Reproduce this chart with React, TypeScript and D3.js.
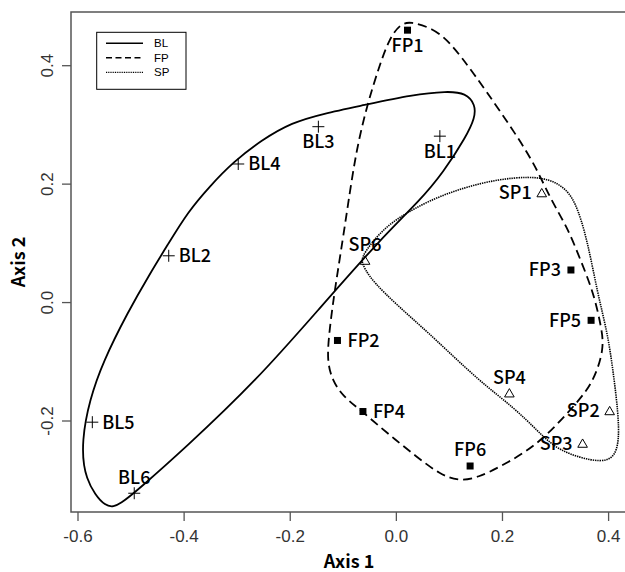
import { useEffect, useRef } from "react";
import * as d3 from "d3";

// site scores (Axis 1, Axis 2)
const blNames = ["BL1", "BL2", "BL3", "BL4", "BL5", "BL6"];
const blX = [0.082, -0.429, -0.147, -0.298, -0.573, -0.494];
const blY = [0.281, 0.079, 0.297, 0.234, -0.202, -0.322];
const blPos = [1, 4, 1, 4, 4, 3];

const fpNames = ["FP1", "FP2", "FP3", "FP4", "FP5", "FP6"];
const fpX = [0.021, -0.111, 0.329, -0.063, 0.367, 0.139];
const fpY = [0.46, -0.064, 0.055, -0.184, -0.03, -0.276];
const fpPos = [1, 4, 2, 4, 2, 3];

const spNames = ["SP1", "SP2", "SP3", "SP4", "SP6"];
const spX = [0.274, 0.402, 0.351, 0.213, -0.059];
const spY = [0.185, -0.183, -0.238, -0.153, 0.071];
const spPos = [2, 2, 2, 3, 3];

// smoothed group envelopes
const blHull = [
  [-0.547, -0.351], [-0.589, -0.298], [-0.593, -0.232], [-0.578, -0.164], [-0.553, -0.1],
  [-0.506, -0.016], [-0.465, 0.048], [-0.43, 0.099], [-0.393, 0.153], [-0.351, 0.197],
  [-0.308, 0.237], [-0.253, 0.275],
  [-0.197, 0.304], [-0.138, 0.319], [-0.063, 0.333], [0.031, 0.351], [0.095, 0.357],
  [0.131, 0.354], [0.149, 0.334], [0.148, 0.312], [0.132, 0.281], [0.088, 0.219],
  [0.045, 0.173], [-0.031, 0.106], [-0.144, -0.009], [-0.263, -0.131], [-0.402, -0.249],
  [-0.483, -0.313], [-0.519, -0.34],
];
const fpHull = [
  [0.026, 0.475], [0.069, 0.463], [0.101, 0.44], [0.145, 0.388], [0.195, 0.324],
  [0.258, 0.24], [0.29, 0.175], [0.322, 0.128], [0.347, 0.072], [0.372, 0.016],
  [0.386, -0.041], [0.392, -0.077], [0.372, -0.133], [0.341, -0.169], [0.271, -0.237],
  [0.209, -0.271], [0.152, -0.297], [0.116, -0.301], [0.082, -0.29], [0.039, -0.261],
  [-0.018, -0.22], [-0.068, -0.181], [-0.1, -0.159], [-0.121, -0.131], [-0.131, -0.097],
  [-0.126, -0.046], [-0.117, 0.016], [-0.101, 0.106], [-0.088, 0.185], [-0.075, 0.258],
  [-0.056, 0.331], [-0.032, 0.4], [-0.013, 0.446], [0.007, 0.47],
];
const spHull = [
  [-0.066, 0.076], [-0.046, 0.102], [-0.021, 0.126], [0.007, 0.145], [0.063, 0.173],
  [0.126, 0.194], [0.19, 0.208], [0.252, 0.213], [0.288, 0.208], [0.314, 0.196],
  [0.337, 0.173], [0.36, 0.106], [0.379, 0.016], [0.398, -0.051], [0.409, -0.119],
  [0.418, -0.186], [0.42, -0.234], [0.41, -0.263], [0.384, -0.269], [0.346, -0.262],
  [0.308, -0.249], [0.284, -0.232], [0.271, -0.221], [0.22, -0.176], [0.158, -0.134],
  [0.069, -0.058], [0.026, -0.024], [-0.025, 0.018], [-0.052, 0.045], [-0.064, 0.065],
];

const xTicks = [-0.6, -0.4, -0.2, 0.0, 0.2, 0.4];
const yTicks = [-0.2, 0.0, 0.2, 0.4];
const groups = ["BL", "FP", "SP"];
const groupDash = ["none", "9,5", "1.4,0.9"];

const W = 625;
const H = 572;
const box = { left: 71, right: 628, top: 12, bottom: 512 };
const labelFont = "'Noto Sans CJK JP', 'Noto Sans', sans-serif";
const tickFont = "'Liberation Sans', Arial, sans-serif";
const fmt = (d: number) => d.toFixed(1);

const App = () => {
  const svgRef = useRef<SVGSVGElement>(null);

  useEffect(() => {
    const svg = d3.select(svgRef.current);
    svg.selectAll("*").remove();

    const x = d3.scaleLinear().domain([-0.6, 0.4]).range([78, 608.6]);
    const y = d3.scaleLinear().domain([-0.2, 0.4]).range([421, 65.7]);

    const line = d3
      .line<number[]>()
      .x((d) => x(d[0]))
      .y((d) => y(d[1]))
      .curve(d3.curveBasisClosed);

    // envelopes
    [blHull, fpHull, spHull].forEach((hull, i) => {
      svg.append("path")
        .attr("d", line(hull))
        .attr("fill", "none")
        .attr("stroke", "#000")
        .attr("stroke-width", i === 2 ? 1.6 : 1.8)
        .attr("stroke-dasharray", groupDash[i]);
    });

    // box
    svg.append("rect")
      .attr("x", box.left)
      .attr("y", box.top)
      .attr("width", box.right - box.left)
      .attr("height", box.bottom - box.top)
      .attr("fill", "none")
      .attr("stroke", "#555")
      .attr("stroke-width", 1.5);

    // x axis
    const gx = svg.append("g");
    gx.selectAll("line")
      .data(xTicks)
      .enter()
      .append("line")
      .attr("x1", (d) => x(d))
      .attr("x2", (d) => x(d))
      .attr("y1", box.bottom)
      .attr("y2", box.bottom + 9)
      .attr("stroke", "#555")
      .attr("stroke-width", 1.3);
    gx.selectAll("text")
      .data(xTicks)
      .enter()
      .append("text")
      .attr("x", (d) => x(d))
      .attr("y", 542)
      .attr("text-anchor", "middle")
      .attr("font-family", tickFont)
      .attr("font-size", 17)
      .attr("fill", "#333")
      .text((d) => fmt(d));

    // y axis
    const gy = svg.append("g");
    gy.selectAll("line")
      .data(yTicks)
      .enter()
      .append("line")
      .attr("x1", box.left - 9)
      .attr("x2", box.left)
      .attr("y1", (d) => y(d))
      .attr("y2", (d) => y(d))
      .attr("stroke", "#555")
      .attr("stroke-width", 1.3);
    gy.selectAll("text")
      .data(yTicks)
      .enter()
      .append("text")
      .attr("transform", (d) => `translate(53,${y(d)}) rotate(-90)`)
      .attr("text-anchor", "middle")
      .attr("font-family", tickFont)
      .attr("font-size", 17)
      .attr("fill", "#333")
      .text((d) => fmt(d));

    // axis titles
    svg.append("text")
      .attr("x", 349)
      .attr("y", 568)
      .attr("text-anchor", "middle")
      .attr("font-family", labelFont)
      .attr("font-weight", "bold")
      .attr("font-size", 18)
      .text("Axis 1");
    svg.append("text")
      .attr("transform", "translate(25,262) rotate(-90)")
      .attr("text-anchor", "middle")
      .attr("font-family", labelFont)
      .attr("font-weight", "bold")
      .attr("font-size", 18)
      .text("Axis 2");

    // points and labels
    const sets = [
      { names: blNames, xs: blX, ys: blY, pos: blPos, shape: "plus" },
      { names: fpNames, xs: fpX, ys: fpY, pos: fpPos, shape: "square" },
      { names: spNames, xs: spX, ys: spY, pos: spPos, shape: "triangle" },
    ];
    sets.forEach((s) => {
      s.names.forEach((name, i) => {
        const px = x(s.xs[i]);
        const py = y(s.ys[i]);
        if (s.shape === "plus") {
          svg.append("path")
            .attr("d", `M${px - 6},${py}H${px + 6}M${px},${py - 6}V${py + 6}`)
            .attr("stroke", "#000")
            .attr("stroke-width", 1);
        } else if (s.shape === "square") {
          svg.append("rect")
            .attr("x", px - 3.5)
            .attr("y", py - 3.5)
            .attr("width", 7)
            .attr("height", 7)
            .attr("fill", "#000");
        } else {
          svg.append("path")
            .attr("d", d3.symbol(d3.symbolTriangle, 40)())
            .attr("transform", `translate(${px},${py + 1})`)
            .attr("fill", "none")
            .attr("stroke", "#000")
            .attr("stroke-width", 1);
        }
        const p = s.pos[i];
        let tx = px;
        let ty = py;
        let anchor = "middle";
        if (p === 1) ty = py + 15;
        if (p === 3) ty = py - 16;
        if (p === 2) {
          tx = px - 10;
          anchor = "end";
        }
        if (p === 4) {
          tx = px + 10;
          anchor = "start";
        }
        svg.append("text")
          .attr("x", tx)
          .attr("y", ty)
          .attr("dy", "0.36em")
          .attr("text-anchor", anchor)
          .attr("font-family", labelFont)
          .attr("font-weight", 500)
          .attr("font-size", 18)
          .text(name);
      });
    });

    // legend
    const lg = svg.append("g");
    lg.append("rect")
      .attr("x", 96.7)
      .attr("y", 32.3)
      .attr("width", 89.3)
      .attr("height", 57)
      .attr("fill", "#fff")
      .attr("stroke", "#000")
      .attr("stroke-width", 1);
    groups.forEach((g, i) => {
      const ly = 43.3 + i * 14.5;
      lg.append("line")
        .attr("x1", 106)
        .attr("x2", 143)
        .attr("y1", ly)
        .attr("y2", ly)
        .attr("stroke", "#000")
        .attr("stroke-width", i === 2 ? 1.2 : 1.4)
        .attr("stroke-dasharray", i === 1 ? "6,3.5" : i === 2 ? "1,0.8" : "none");
      lg.append("text")
        .attr("x", 154)
        .attr("y", ly)
        .attr("dy", "0.36em")
        .attr("font-family", tickFont)
        .attr("font-size", 11.5)
        .text(g);
    });
  }, []);

  return (
    <svg
      ref={svgRef}
      width={W}
      height={H}
      style={{ position: "absolute", left: 0, top: 0, background: "#fff" }}
    ></svg>
  );
};

export default App;
